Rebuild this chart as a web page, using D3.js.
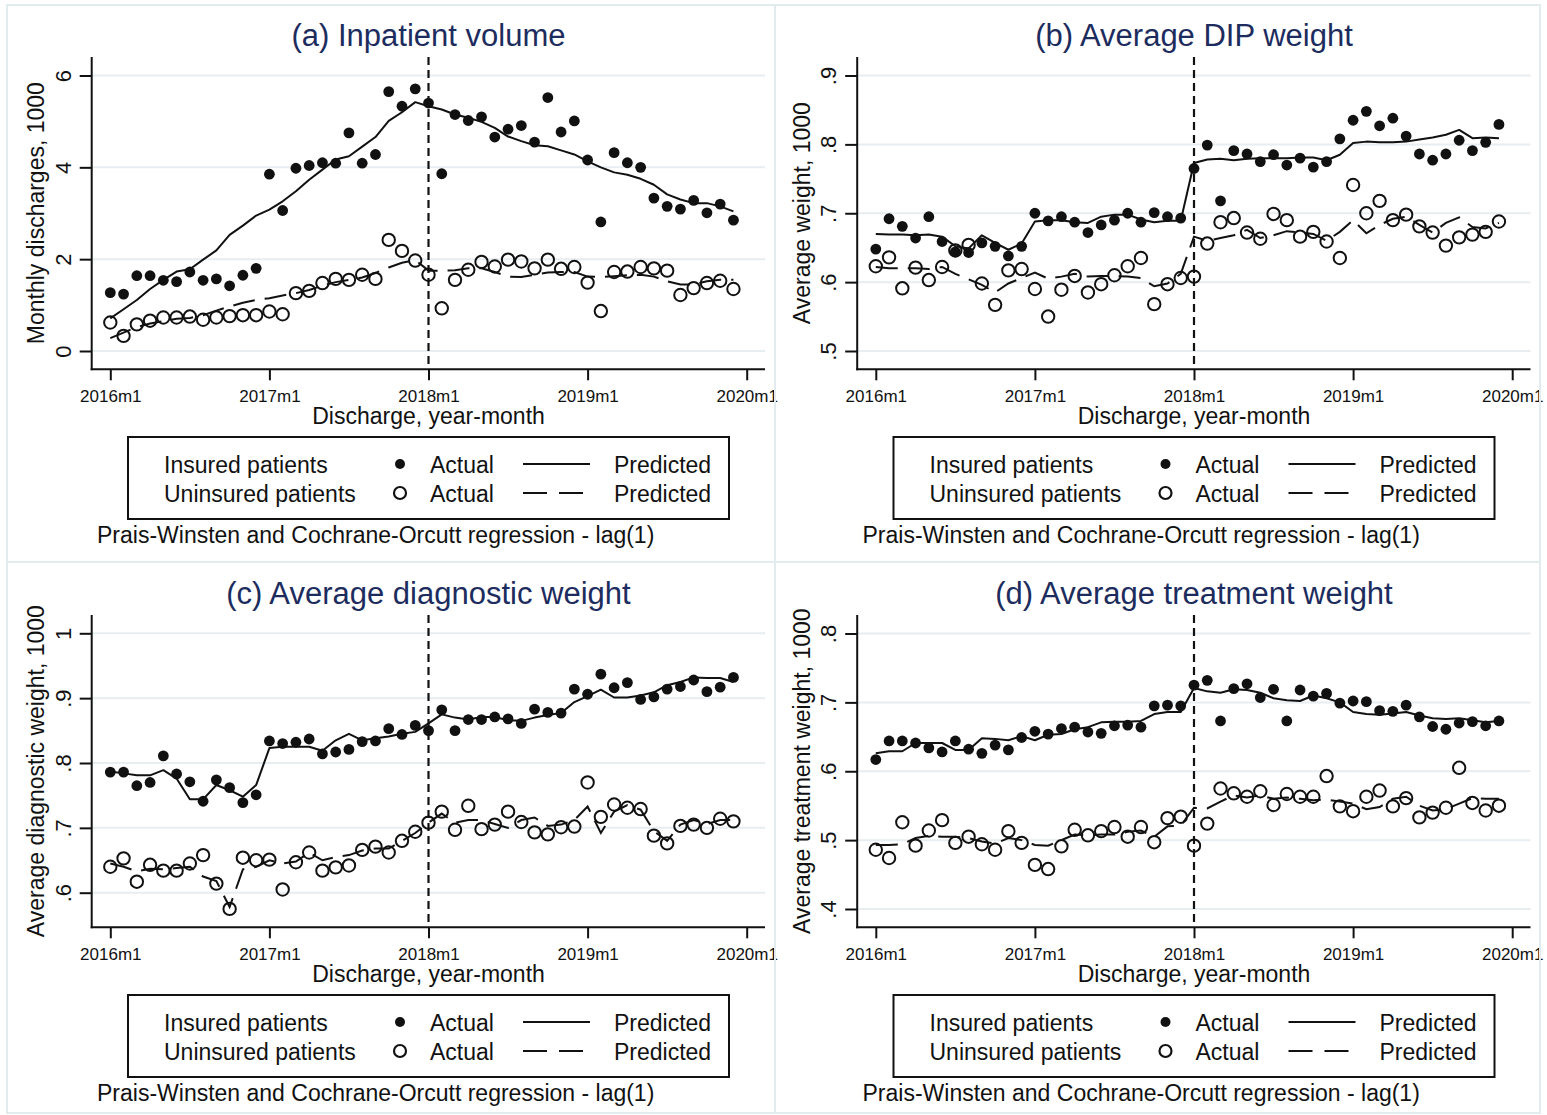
<!DOCTYPE html>
<html><head><meta charset="utf-8">
<script src="https://cdn.jsdelivr.net/npm/d3@7"></script>
<style>
body{margin:0;background:#fff}
text{font-family:"Liberation Sans",Arial,Helvetica,sans-serif}
</style>
</head><body>
<svg id="chart" width="1547" height="1115"></svg>
<script>
// ---------- categories ----------
const months = ["2016m1","2016m2","2016m3","2016m4","2016m5","2016m6","2016m7","2016m8","2016m9","2016m10","2016m11","2016m12",
"2017m1","2017m2","2017m3","2017m4","2017m5","2017m6","2017m7","2017m8","2017m9","2017m10","2017m11","2017m12",
"2018m1","2018m2","2018m3","2018m4","2018m5","2018m6","2018m7","2018m8","2018m9","2018m10","2018m11","2018m12",
"2019m1","2019m2","2019m3","2019m4","2019m5","2019m6","2019m7","2019m8","2019m9","2019m10","2019m11","2019m12"];
const xTickLabels = ["2016m1","2017m1","2018m1","2019m1","2020m1"];
const xTickIdx = [0,12,24,36,48];
const policyMonth = "2018m1";

// ---------- (a) Inpatient volume ----------
const aInsAct = [1.27,1.24,1.64,1.64,1.54,1.51,1.72,1.54,1.57,1.42,1.65,1.80,3.85,3.06,3.98,4.04,4.10,4.09,4.75,4.09,4.28,5.65,5.33,5.71,5.40,3.86,5.15,5.02,5.10,4.66,4.83,4.91,4.55,5.52,4.77,5.01,4.16,2.81,4.32,4.10,4.00,3.33,3.15,3.09,3.28,3.01,3.20,2.85];
const aInsPred = [0.71,0.91,1.11,1.35,1.55,1.73,1.78,1.99,2.19,2.53,2.73,2.95,3.08,3.26,3.48,3.73,3.95,4.17,4.24,4.45,4.66,5.01,5.20,5.42,5.33,5.26,5.15,5.08,4.99,4.86,4.67,4.57,4.48,4.46,4.37,4.28,4.13,4.00,3.89,3.84,3.75,3.62,3.41,3.30,3.22,3.22,3.15,3.04];
const aUnAct = [0.62,0.33,0.58,0.66,0.73,0.73,0.75,0.68,0.73,0.76,0.78,0.78,0.86,0.80,1.26,1.31,1.48,1.57,1.55,1.66,1.57,2.42,2.18,1.97,1.66,0.93,1.55,1.77,1.94,1.84,1.99,1.95,1.80,1.99,1.79,1.83,1.49,0.87,1.72,1.73,1.83,1.80,1.75,1.22,1.37,1.48,1.53,1.35];
const aUnPred = [0.28,0.40,0.52,0.60,0.65,0.70,0.72,0.78,0.88,0.97,1.05,1.11,1.15,1.21,1.26,1.33,1.42,1.50,1.55,1.60,1.70,1.82,1.92,1.98,1.75,1.75,1.76,1.80,1.80,1.72,1.62,1.61,1.66,1.71,1.72,1.72,1.62,1.61,1.63,1.65,1.66,1.62,1.52,1.45,1.45,1.52,1.55,1.55];
const aYTicks = [0,2,4,6];
const aYTickLabels = ["0","2","4","6"];

// ---------- (b) Average DIP weight ----------
const bInsAct = [0.648,0.692,0.681,0.664,0.695,0.659,0.644,0.643,0.657,0.652,0.638,0.652,0.700,0.689,0.695,0.687,0.672,0.683,0.690,0.700,0.687,0.701,0.695,0.693,0.765,0.799,0.718,0.791,0.786,0.775,0.785,0.770,0.780,0.767,0.775,0.808,0.835,0.848,0.827,0.838,0.812,0.786,0.777,0.786,0.806,0.791,0.803,0.829];
const bInsPred = [0.670,0.669,0.669,0.668,0.669,0.666,0.652,0.649,0.668,0.657,0.647,0.656,0.688,0.690,0.690,0.687,0.686,0.695,0.698,0.698,0.691,0.687,0.689,0.689,0.773,0.778,0.779,0.777,0.779,0.780,0.780,0.780,0.781,0.781,0.777,0.785,0.802,0.804,0.803,0.803,0.804,0.807,0.810,0.814,0.821,0.809,0.810,0.809];
const bUnAct = [0.623,0.636,0.591,0.621,0.603,0.622,0.646,0.654,0.598,0.567,0.617,0.619,0.590,0.550,0.589,0.609,0.585,0.597,0.610,0.623,0.635,0.568,0.597,0.606,0.608,0.656,0.687,0.693,0.672,0.663,0.699,0.690,0.666,0.673,0.659,0.635,0.741,0.700,0.718,0.690,0.698,0.681,0.672,0.653,0.665,0.669,0.673,0.688];
const bUnPred = [0.622,0.620,0.620,0.620,0.619,0.622,0.612,0.604,0.596,0.585,0.598,0.606,0.614,0.605,0.608,0.612,0.608,0.609,0.609,0.608,0.606,0.594,0.598,0.612,0.666,0.660,0.664,0.668,0.676,0.664,0.668,0.674,0.672,0.670,0.660,0.673,0.690,0.671,0.683,0.692,0.695,0.683,0.672,0.686,0.694,0.680,0.678,0.686];
const bYTicks = [0.5,0.6,0.7,0.8,0.9];
const bYTickLabels = [".5",".6",".7",".8",".9"];

// ---------- (c) Average diagnostic weight ----------
const cInsAct = [0.786,0.786,0.765,0.770,0.811,0.783,0.771,0.741,0.774,0.762,0.739,0.751,0.834,0.830,0.832,0.837,0.814,0.817,0.821,0.833,0.834,0.853,0.844,0.858,0.850,0.882,0.850,0.867,0.867,0.871,0.868,0.861,0.883,0.878,0.877,0.914,0.906,0.937,0.916,0.924,0.898,0.902,0.914,0.918,0.928,0.910,0.917,0.932];
const cInsPred = [0.787,0.784,0.781,0.781,0.789,0.776,0.744,0.744,0.766,0.758,0.748,0.766,0.823,0.825,0.825,0.825,0.819,0.835,0.845,0.835,0.838,0.841,0.845,0.848,0.861,0.875,0.870,0.867,0.871,0.871,0.866,0.865,0.870,0.874,0.877,0.894,0.903,0.913,0.901,0.901,0.904,0.909,0.920,0.925,0.932,0.931,0.931,0.925];
const cUnAct = [0.640,0.653,0.617,0.643,0.634,0.634,0.645,0.658,0.614,0.575,0.654,0.650,0.651,0.605,0.647,0.662,0.634,0.639,0.642,0.666,0.671,0.662,0.680,0.694,0.708,0.725,0.697,0.734,0.698,0.705,0.725,0.709,0.693,0.690,0.701,0.702,0.770,0.717,0.736,0.731,0.729,0.688,0.676,0.703,0.705,0.700,0.714,0.710];
const cUnPred = [0.645,0.640,0.633,0.637,0.636,0.638,0.640,0.625,0.618,0.578,0.636,0.640,0.650,0.645,0.648,0.662,0.650,0.655,0.658,0.665,0.668,0.668,0.680,0.692,0.708,0.722,0.708,0.712,0.712,0.706,0.700,0.712,0.716,0.703,0.705,0.712,0.733,0.692,0.725,0.735,0.728,0.695,0.680,0.705,0.712,0.706,0.712,0.712];
const cYTicks = [0.6,0.7,0.8,0.9,1.0];
const cYTickLabels = [".6",".7",".8",".9","1"];

// ---------- (d) Average treatment weight ----------
const dInsAct = [0.617,0.644,0.644,0.641,0.634,0.628,0.644,0.632,0.626,0.638,0.631,0.649,0.658,0.654,0.662,0.664,0.657,0.655,0.666,0.667,0.664,0.695,0.696,0.695,0.725,0.732,0.673,0.720,0.727,0.707,0.719,0.673,0.718,0.709,0.713,0.699,0.702,0.701,0.688,0.687,0.696,0.679,0.665,0.661,0.670,0.672,0.666,0.673];
const dInsPred = [0.626,0.629,0.629,0.641,0.641,0.641,0.631,0.631,0.648,0.647,0.645,0.651,0.645,0.653,0.654,0.661,0.664,0.671,0.672,0.672,0.673,0.683,0.686,0.686,0.721,0.716,0.714,0.719,0.718,0.714,0.706,0.703,0.702,0.710,0.706,0.700,0.686,0.683,0.682,0.684,0.686,0.681,0.677,0.676,0.677,0.674,0.671,0.673];
const dUnAct = [0.486,0.474,0.526,0.492,0.514,0.529,0.496,0.505,0.494,0.486,0.513,0.496,0.464,0.458,0.491,0.515,0.507,0.513,0.519,0.505,0.519,0.497,0.532,0.534,0.492,0.524,0.575,0.568,0.563,0.571,0.551,0.567,0.563,0.563,0.593,0.549,0.542,0.563,0.572,0.549,0.561,0.533,0.540,0.547,0.605,0.554,0.543,0.550];
const dUnPred = [0.493,0.493,0.494,0.503,0.506,0.505,0.505,0.503,0.498,0.495,0.503,0.500,0.493,0.492,0.500,0.508,0.507,0.508,0.508,0.512,0.514,0.505,0.520,0.521,0.547,0.546,0.556,0.565,0.562,0.565,0.560,0.562,0.560,0.558,0.559,0.556,0.553,0.545,0.548,0.560,0.563,0.550,0.543,0.545,0.553,0.561,0.560,0.560];
const dYTicks = [0.4,0.5,0.6,0.7,0.8];
const dYTickLabels = [".4",".5",".6",".7",".8"];

// ---------- texts ----------
const panelTitles = ["(a) Inpatient volume","(b) Average DIP weight","(c) Average diagnostic weight","(d) Average treatment weight"];
const yTitles = ["Monthly discharges, 1000","Average weight, 1000","Average diagnostic weight, 1000","Average treatment weight, 1000"];
const xTitle = "Discharge, year-month";
const legendRows = ["Insured patients","Uninsured patients"];
const legendActual = "Actual";
const legendPredicted = "Predicted";
const noteText = "Prais-Winsten and Cochrane-Orcutt regression - lag(1)";

// ---------- drawing ----------
const svg = d3.select("#chart");
const FONT = '"Liberation Sans",Arial,Helvetica,sans-serif';
const TITLE_COLOR = "#1d2c5e";
const GRID = "#e6eef1";
const INK = "#111";
const DASH = "22,10";

svg.append("rect").attr("width",1547).attr("height",1115).attr("fill","#fff");

const panels = [
  {title:panelTitles[0], yTitle:yTitles[0], ticks:aYTicks, tl:aYTickLabels, domain:[0,6], range:[351,75.5], ia:aInsAct, ip:aInsPred, ua:aUnAct, up:aUnPred, dx:0, dy:0},
  {title:panelTitles[1], yTitle:yTitles[1], ticks:bYTicks, tl:bYTickLabels, domain:[0.5,0.9], range:[351,75.5], ia:bInsAct, ip:bInsPred, ua:bUnAct, up:bUnPred, dx:765.5, dy:0},
  {title:panelTitles[2], yTitle:yTitles[2], ticks:cYTicks, tl:cYTickLabels, domain:[0.6,1.0], range:[334.7,75.3], ia:cInsAct, ip:cInsPred, ua:cUnAct, up:cUnPred, dx:0, dy:558},
  {title:panelTitles[3], yTitle:yTitles[3], ticks:dYTicks, tl:dYTickLabels, domain:[0.4,0.8], range:[351,75.5], ia:dInsAct, ip:dInsPred, ua:dUnAct, up:dUnPred, dx:765.5, dy:558}
];

const x = d3.scaleLinear().domain([0,48]).range([110.3,746.7]);
const PL = 91.7, PR = 765, PT = 57, PB = 369.3;

panels.forEach(p => {
  const g = svg.append("g").attr("transform",`translate(${p.dx},${p.dy})`);
  const y = d3.scaleLinear().domain(p.domain).range(p.range);

  // gridlines
  g.append("g").selectAll("line").data(p.ticks).join("line")
    .attr("x1",PL).attr("x2",PR).attr("y1",d=>y(d)).attr("y2",d=>y(d))
    .attr("stroke",GRID).attr("stroke-width",2);

  // policy line
  const px = x(months.indexOf(policyMonth));
  g.append("line").attr("x1",px).attr("x2",px).attr("y1",PT).attr("y2",PB)
    .attr("stroke",INK).attr("stroke-width",2.2).attr("stroke-dasharray","8,5");

  // y axis
  const yAxis = d3.axisLeft(y).tickValues(p.ticks).tickFormat((d,i)=>p.tl[i]).tickSize(12).tickPadding(0);
  const ya = g.append("g").attr("transform",`translate(${PL},0)`).call(yAxis);
  ya.select(".domain").remove();
  ya.selectAll(".tick line").attr("stroke",INK).attr("stroke-width",2);
  ya.selectAll(".tick text").attr("x",null).attr("dy",null)
    .attr("transform","translate(-21,0) rotate(-90)").attr("text-anchor","middle")
    .attr("font-size",22).attr("font-family",FONT).attr("fill",INK);
  g.append("line").attr("x1",PL).attr("x2",PL).attr("y1",PT).attr("y2",PB+1)
    .attr("stroke",INK).attr("stroke-width",2);

  // x axis
  const xAxis = d3.axisBottom(x).tickValues(xTickIdx).tickFormat((d,i)=>xTickLabels[i]).tickSize(11);
  const xa = g.append("g").attr("transform",`translate(0,${PB})`).call(xAxis);
  xa.select(".domain").remove();
  xa.selectAll(".tick line").attr("stroke",INK).attr("stroke-width",2);
  xa.selectAll(".tick text").attr("y",32.4).attr("dy",null)
    .attr("font-size",17).attr("font-family",FONT).attr("fill",INK);
  g.append("line").attr("x1",PL-1).attr("x2",PR).attr("y1",PB).attr("y2",PB)
    .attr("stroke",INK).attr("stroke-width",2);

  // series
  const line = d3.line().x((d,i)=>x(i)).y(d=>y(d));
  g.append("g").selectAll("circle").data(p.ia).join("circle")
    .attr("cx",(d,i)=>x(i)).attr("cy",d=>y(d)).attr("r",5.4).attr("fill",INK);
  g.append("path").datum(p.ip).attr("d",line).attr("fill","none")
    .attr("stroke",INK).attr("stroke-width",2).attr("stroke-linejoin","round");
  g.append("g").selectAll("circle").data(p.ua).join("circle")
    .attr("cx",(d,i)=>x(i)).attr("cy",d=>y(d)).attr("r",6.2).attr("fill","none")
    .attr("stroke",INK).attr("stroke-width",2);
  g.append("path").datum(p.up).attr("d",line).attr("fill","none")
    .attr("stroke",INK).attr("stroke-width",2).attr("stroke-dasharray",DASH);

  // titles
  g.append("text").attr("x",428.5).attr("y",46).attr("text-anchor","middle")
    .attr("font-size",31).attr("fill",TITLE_COLOR).attr("font-family",FONT).text(p.title);
  g.append("text").attr("transform",`translate(44,${(PT+PB)/2}) rotate(-90)`).attr("text-anchor","middle")
    .attr("font-size",23).attr("fill",INK).attr("font-family",FONT).text(p.yTitle);
  g.append("text").attr("x",428.5).attr("y",424).attr("text-anchor","middle")
    .attr("font-size",23).attr("fill",INK).attr("font-family",FONT).text(xTitle);

  // legend
  const lg = g.append("g");
  lg.append("rect").attr("x",128).attr("y",437).attr("width",601).attr("height",82)
    .attr("fill","none").attr("stroke",INK).attr("stroke-width",2);
  const rowsY = [464, 493];
  legendRows.forEach((t,i)=>{
    lg.append("text").attr("x",164).attr("y",rowsY[i]+8.5).attr("font-size",23)
      .attr("font-family",FONT).attr("fill",INK).text(t);
    lg.append("text").attr("x",430).attr("y",rowsY[i]+8.5).attr("font-size",23)
      .attr("font-family",FONT).attr("fill",INK).text(legendActual);
    lg.append("text").attr("x",614).attr("y",rowsY[i]+8.5).attr("font-size",23)
      .attr("font-family",FONT).attr("fill",INK).text(legendPredicted);
    const ln = lg.append("line").attr("x1",523).attr("x2",590).attr("y1",rowsY[i]).attr("y2",rowsY[i])
      .attr("stroke",INK).attr("stroke-width",2);
    if(i===1) ln.attr("stroke-dasharray","24,12");
  });
  lg.append("circle").attr("cx",400).attr("cy",rowsY[0]).attr("r",5).attr("fill",INK);
  lg.append("circle").attr("cx",400).attr("cy",rowsY[1]).attr("r",6).attr("fill","none")
    .attr("stroke",INK).attr("stroke-width",2.2);

  // note
  g.append("text").attr("x",97).attr("y",543).attr("font-size",23)
    .attr("font-family",FONT).attr("fill",INK).text(noteText);
});

// panel borders
const B = "#e2ecef";
svg.append("rect").attr("x",7).attr("y",5).attr("width",1533).attr("height",1108)
  .attr("fill","none").attr("stroke",B).attr("stroke-width",2);
svg.append("line").attr("x1",775).attr("x2",775).attr("y1",5).attr("y2",1113).attr("stroke",B).attr("stroke-width",2);
svg.append("line").attr("x1",7).attr("x2",1540).attr("y1",562).attr("y2",562).attr("stroke",B).attr("stroke-width",2);
</script>
</body></html>
